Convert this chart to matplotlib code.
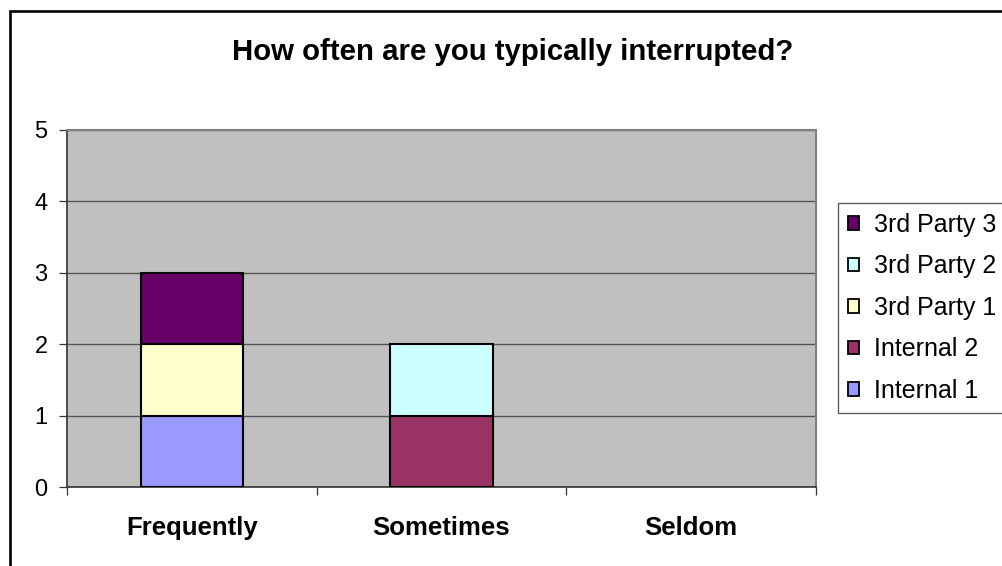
import matplotlib
matplotlib.use("Agg")
import matplotlib.pyplot as plt
from matplotlib.patches import Rectangle, Patch
import numpy as np

plt.rcParams['font.family'] = ['Liberation Sans', 'DejaVu Sans']

categories = ["Frequently", "Sometimes", "Seldom"]
series_names = ["Internal 1", "Internal 2", "3rd Party 1", "3rd Party 2", "3rd Party 3"]
internal_1 = [1, 0, 0]
internal_2 = [0, 1, 0]
third_party_1 = [1, 0, 0]
third_party_2 = [0, 1, 0]
third_party_3 = [1, 0, 0]
series_values = [internal_1, internal_2, third_party_1, third_party_2, third_party_3]
series_colors = ["#9999FF", "#993366", "#FFFFCC", "#CCFFFF", "#660066"]
y_ticks = [0, 1, 2, 3, 4, 5]
title = "How often are you typically interrupted?"

W, H = 1002, 566
fig = plt.figure(figsize=(W / 100, H / 100), dpi=100)
fig.patch.set_facecolor("white")

# chart-area frame (left and top edges visible)
fig.patches.append(Rectangle((10 / W, -0.5), 2.0, 1.5 - 11 / H, transform=fig.transFigure,
                             fill=False, edgecolor="black", linewidth=1.9, zorder=0))

ax = fig.add_axes([67 / W, 1 - 487 / H, (816 - 67) / W, (487 - 130) / H])
ax.set_facecolor("#C0C0C0")

x = np.arange(len(categories))
bottom = np.zeros(len(categories))
handles = []
for name, vals, col in zip(series_names, series_values, series_colors):
    vals = np.array(vals, dtype=float)
    bars = ax.bar(x, vals, width=0.41, bottom=bottom, color=col, edgecolor="black",
                  linewidth=1.5, zorder=3)
    for patch, v in zip(bars, vals):
        if v == 0:
            patch.set_visible(False)
    bottom += vals
    handles.append(Patch(facecolor=col, edgecolor="black", linewidth=1.3, label=name))

ax.set_xlim(-0.5, len(categories) - 0.5)
ax.set_ylim(0, 5)
ax.set_yticks(y_ticks)
ax.set_yticklabels([str(t) for t in y_ticks])
ax.yaxis.grid(True, color="#555555", linewidth=1.0, zorder=1)
ax.set_axisbelow(True)

ax.set_xticks(x)
ax.set_xticklabels(categories, fontweight="bold", fontsize=18.5)
ax.set_xticks(np.arange(len(categories) + 1) - 0.5, minor=True)
ax.tick_params(axis="x", which="major", length=0, pad=21)
ax.tick_params(axis="x", which="minor", length=6, width=0.9, color="#333333")
ax.tick_params(axis="y", length=6, width=0.9, color="#333333", labelsize=17, pad=8)

for side in ["top", "right"]:
    ax.spines[side].set_color("#808080")
    ax.spines[side].set_linewidth(1.5)
for side in ["left", "bottom"]:
    ax.spines[side].set_color("#333333")
    ax.spines[side].set_linewidth(1.2)

fig.text(513 / W, 1 - 52 / H, title, ha="center", va="center", fontsize=21.2, fontweight="bold")

leg = fig.legend(handles=handles[::-1], loc="upper left",
                 bbox_to_anchor=(838 / W, 1 - 203 / H), borderaxespad=0,
                 fontsize=18, handlelength=0.45, handleheight=0.45, handletextpad=0.6,
                 labelspacing=0.7, borderpad=0.4, frameon=True, fancybox=False)
leg.get_frame().set_edgecolor("#333333")
leg.get_frame().set_linewidth(1.0)

fig.savefig("out.png", dpi=100)
